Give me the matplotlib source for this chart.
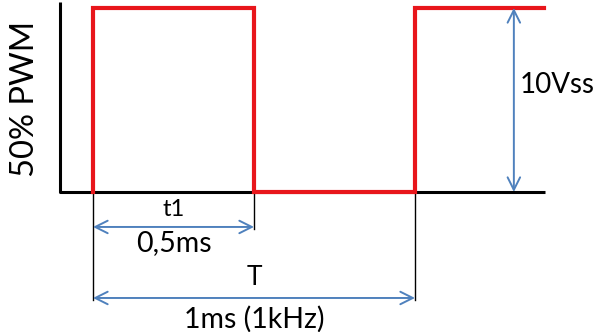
import matplotlib.pyplot as plt

# PWM waveform, time in ms and level in V
wave_t = [0, 0, 0.5, 0.5, 1.0, 1.0, 1.4]
wave_v = [0, 10, 10, 0, 0, 10, 10]

# axes drawn by hand (left + baseline)
axis_t = [-0.1025, -0.1025, 1.404]
axis_v = [10.3, 0, 0]

pulse = 0.5      # t1
period = 1.0     # T
amplitude = 10   # Vss

labels = {
    "ylabel": "50% PWM",
    "t1": "t1",
    "t1_val": "0,5ms",
    "T": "T",
    "T_val": "1ms (1kHz)",
    "amp": "10Vss",
}

blue = "#4f81bd"
font = ["Lato", "DejaVu Sans"]

fig = plt.figure(figsize=(5.95, 3.32), dpi=100)
ax = fig.add_axes([0, 0, 1, 1])
# pixel layout: t=0 at x=93, 322 px per ms; 0 V at y=192, 18.4 px per V
ax.set_xlim(-93 / 322, (595 - 93) / 322)
ax.set_ylim((192 - 332) / 18.4, 192 / 18.4)
ax.axis("off")

ax.plot(axis_t, axis_v, color="black", lw=2.2, solid_capstyle="butt", zorder=2)
ax.plot(wave_t, wave_v, color="#e8161b", lw=3.0, solid_joinstyle="miter", zorder=3)

# extension lines
y_t1 = -1.9
y_T = -5.76
ax.plot([0, 0], [0, y_T - 0.1], color="black", lw=1.0)
ax.plot([pulse, pulse], [0, y_t1 - 0.1], color="black", lw=1.0)
ax.plot([period, period], [0, y_T - 0.1], color="black", lw=1.0)

arrow = dict(arrowstyle="<->,head_length=0.6,head_width=0.3", color=blue, lw=1.4,
             shrinkA=0, shrinkB=0, mutation_scale=15)
ax.annotate("", xy=(0, y_t1), xytext=(pulse, y_t1), arrowprops=arrow)
ax.annotate("", xy=(0, y_T), xytext=(period, y_T), arrowprops=arrow)
x_amp = 1.307
ax.annotate("", xy=(x_amp, 0), xytext=(x_amp, amplitude), arrowprops=arrow)

ax.text(pulse / 2, -0.95, labels["t1"], ha="center", va="center", fontsize=17, family=font)
ax.text(pulse / 2, -2.8, labels["t1_val"], ha="center", va="center", fontsize=20.5, family=font)
ax.text(period / 2, -4.65, labels["T"], ha="center", va="center", fontsize=19, family=font)
ax.text(period / 2, -6.9, labels["T_val"], ha="center", va="center", fontsize=20.5, family=font)
ax.text(1.326, 5.8, labels["amp"], ha="left", va="center", fontsize=20, family=font)
ax.text(-0.211, 5.05, labels["ylabel"], ha="center", va="center", rotation=90,
        fontsize=23.5, family=font)

fig.savefig("out.png", dpi=100)
